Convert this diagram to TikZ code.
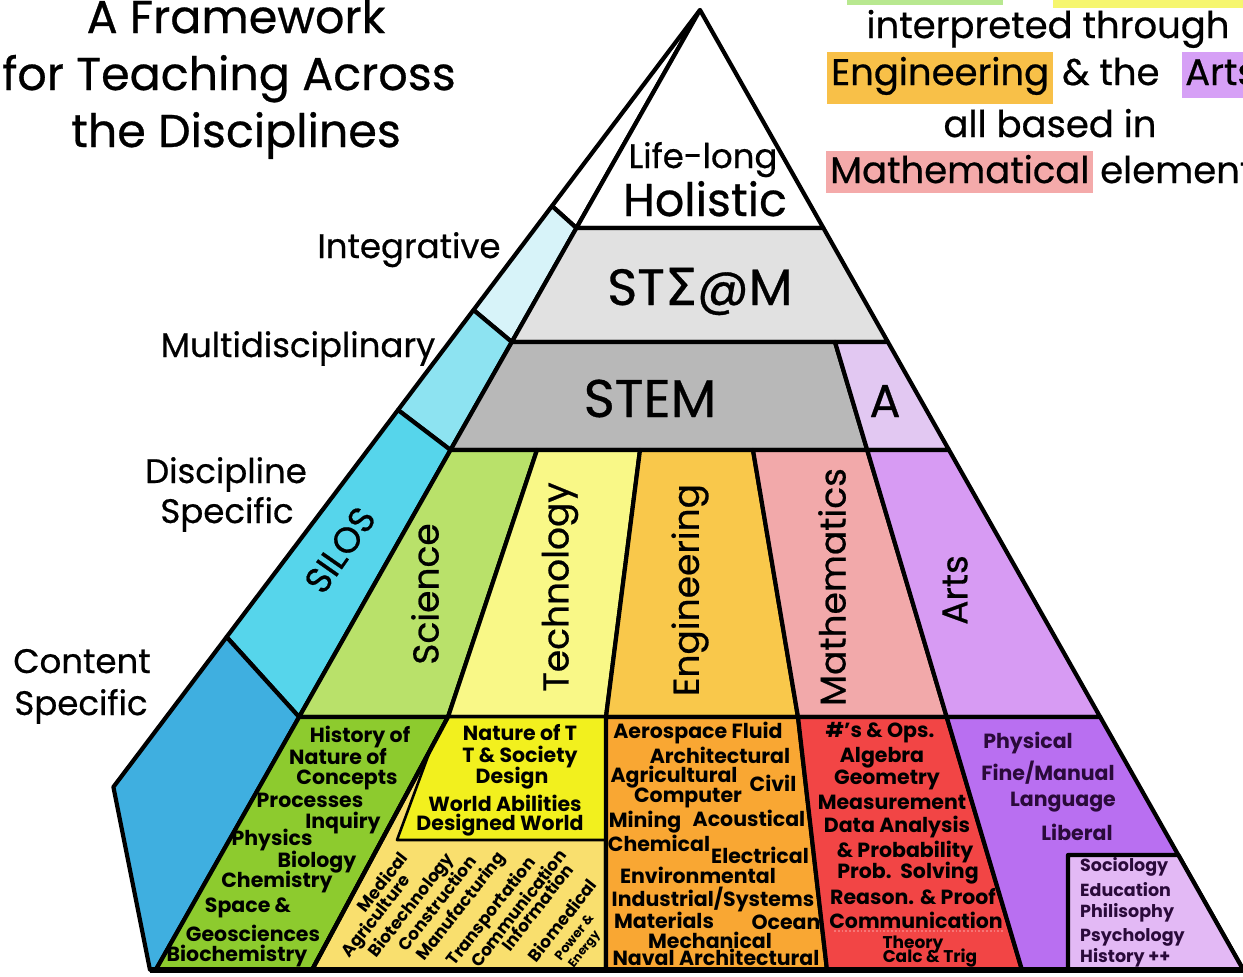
\documentclass[tikz,border=0pt]{standalone}
\usepackage{fontspec}
\setmainfont{Poppins}
\newfontfamily\medfont{Poppins}[FakeBold=0.6]
\newfontfamily\dvs{DejaVu Sans}[FakeBold=0.6]
\definecolor{bInt}{HTML}{D7F3F9}
\definecolor{bMul}{HTML}{8DE3F1}
\definecolor{bSil}{HTML}{56D5EB}
\definecolor{bCon}{HTML}{3FAFE0}
\definecolor{cSteam}{HTML}{E1E1E1}
\definecolor{cStem}{HTML}{B8B8B8}
\definecolor{cA}{HTML}{E2C8F2}
\definecolor{sciTop}{HTML}{B9E16A}
\definecolor{sciBot}{HTML}{8DCB2E}
\definecolor{tecTop}{HTML}{F9F887}
\definecolor{tecBox}{HTML}{F2F01E}
\definecolor{tecBot}{HTML}{F9DF6E}
\definecolor{engTop}{HTML}{F9C84B}
\definecolor{engBot}{HTML}{F9A733}
\definecolor{matTop}{HTML}{F2A9AA}
\definecolor{matBot}{HTML}{F24545}
\definecolor{artTop}{HTML}{D79BF3}
\definecolor{artBot}{HTML}{B96FF1}
\definecolor{socBox}{HTML}{E3B9F5}
\definecolor{hlGreen}{HTML}{B8E890}
\definecolor{hlYellow}{HTML}{F6F66E}
\definecolor{hlOrange}{HTML}{F8C048}
\definecolor{hlPurple}{HTML}{D6A0F6}
\definecolor{hlPink}{HTML}{F4AAAA}
\definecolor{artInk}{HTML}{2A0A3A}
\begin{document}
\begin{tikzpicture}[x=1pt,y=-1pt,
  edge/.style={draw=black,line width=4.2pt,line join=round},
  thinedge/.style={draw=black,line width=2.6pt,line join=round},
  ttl/.style={inner sep=0pt,anchor=base,font=\medfont\fontsize{46}{46}\selectfont},
  trt/.style={inner sep=0pt,anchor=base,font=\medfont\fontsize{37}{37}\selectfont},
  hl/.style={anchor=base west,inner xsep=4pt,inner ysep=8pt,text height=25pt,font=\medfont\fontsize{37}{37}\selectfont},
  side/.style={inner sep=0pt,anchor=base,font=\medfont\fontsize{34}{34}\selectfont},
  rowlbl/.style={inner sep=0pt,anchor=base,font=\medfont\fontsize{51}{51}\selectfont},
  hdr/.style={inner sep=0pt,anchor=center,font=\medfont\fontsize{36}{36}\selectfont},
  bt/.style={inner sep=0pt,anchor=center,font=\bfseries\fontsize{20.5}{20.5}\selectfont},
  dt/.style={inner sep=0pt,anchor=center,rotate=52,font=\bfseries\fontsize{17}{17}\selectfont},
  artxt/.style={bt,text=artInk},
  sot/.style={inner sep=0pt,anchor=west,text=artInk,font=\bfseries\fontsize{17.5}{17.5}\selectfont}
]
\useasboundingbox (0,0) rectangle (1243,977);
\begin{scope}
\clip (0,0) rectangle (1243,977);
% key points
\coordinate (apex) at (700,10);
\coordinate (o1) at (552,206);
\coordinate (o2) at (473.5,310);
\coordinate (o3) at (398,410);
\coordinate (o4) at (226.6,637);
\coordinate (o5) at (113.4,787);
\coordinate (o6) at (150,970);
\coordinate (i1) at (576.4,228);
\coordinate (i2) at (511.8,342);
\coordinate (i3) at (450.5,450);
\coordinate (i4) at (299.1,717);
\coordinate (i5) at (155.7,970);
\coordinate (r1) at (823.4,228);
\coordinate (r2) at (887.9,342);
\coordinate (r3) at (949,450);
\coordinate (r4) at (1100.2,717);
\coordinate (r5) at (1178.3,855);
\coordinate (r6) at (1243.4,970);
\coordinate (m1) at (835,342);
\coordinate (m2) at (867.2,450);
\coordinate (m3) at (946.7,717);
\coordinate (m4) at (1022,970);
\coordinate (st) at (537,450);
\coordinate (sb) at (448,717);
\coordinate (sc) at (312,970);
\coordinate (tt) at (640,450);
\coordinate (tb) at (606,717);
\coordinate (tc) at (606,970);
\coordinate (et) at (753,450);
\coordinate (eb) at (798,717);
\coordinate (ec) at (827,970);
\coordinate (bx1) at (430.3,750);
\coordinate (bx2) at (397,840);
\coordinate (bx3) at (606,840);
\coordinate (so1) at (1068,855);
\coordinate (so2) at (1068,970);
\coordinate (dotA) at (834,931);
\coordinate (dotB) at (1003,931);

% top-right highlight bars (cropped line)
\fill[hlGreen] (847,0) rectangle (1003,5);
\fill[hlYellow] (1053,0) rectangle (1243,8);

% band
\filldraw[edge,fill=white] (apex) -- (o1) -- (i1) -- cycle;
\filldraw[edge,fill=bInt] (o1) -- (o2) -- (i2) -- (i1) -- cycle;
\filldraw[edge,fill=bMul] (o2) -- (o3) -- (i3) -- (i2) -- cycle;
\filldraw[edge,fill=bSil] (o3) -- (o4) -- (i4) -- (i3) -- cycle;
\filldraw[edge,fill=bCon] (o4) -- (o5) -- (o6) -- (i5) -- (i4) -- cycle;
% upper rows
\filldraw[edge,fill=white] (apex) -- (i1) -- (r1) -- cycle;
\filldraw[edge,fill=cSteam] (i1) -- (i2) -- (r2) -- (r1) -- cycle;
\filldraw[edge,fill=cStem] (i2) -- (i3) -- (m2) -- (m1) -- cycle;
\filldraw[edge,fill=cA] (m1) -- (m2) -- (r3) -- (r2) -- cycle;
% discipline row
\filldraw[edge,fill=sciTop] (i3) -- (i4) -- (sb) -- (st) -- cycle;
\filldraw[edge,fill=tecTop] (st) -- (sb) -- (tb) -- (tt) -- cycle;
\filldraw[edge,fill=engTop] (tt) -- (tb) -- (eb) -- (et) -- cycle;
\filldraw[edge,fill=matTop] (et) -- (eb) -- (m3) -- (m2) -- cycle;
\filldraw[edge,fill=artTop] (m2) -- (m3) -- (r4) -- (r3) -- cycle;
% content row
\filldraw[edge,fill=sciBot] (i4) -- (i5) -- (sc) -- (sb) -- cycle;
\filldraw[edge,fill=tecBot] (sb) -- (sc) -- (tc) -- (tb) -- cycle;
\filldraw[thinedge,fill=tecBox] (sb) -- (tb) -- (bx3) -- (bx2) -- (bx1) -- cycle;
\filldraw[edge,fill=engBot] (tb) -- (tc) -- (ec) -- (eb) -- cycle;
\filldraw[edge,fill=matBot] (eb) -- (ec) -- (m4) -- (m3) -- cycle;
\filldraw[edge,fill=artBot] (m3) -- (m4) -- (r6) -- (r4) -- cycle;
\filldraw[edge,fill=socBox] (so1) -- (r5) -- (r6) -- (so2) -- cycle;
\draw[draw=black,line width=5.5pt] (o6) -- (r6);
\draw[edge] (sb) -- (sc);
\draw[edge] (tb) -- (tc);

% title
\node[ttl] (t1) at (236,33) {A Framework};
\node[ttl] (t2) at (229,90) {for Teaching Across};
\node[ttl] (t3) at (236,147) {the Disciplines};

% top right text
\node[trt] (tr1) at (1048,38) {interpreted through};
\node[hl,fill=hlOrange,text depth=11pt] (hEngw) at (827,85) {Engineering};
\node[trt,anchor=base west] (hAnd) at (1062,85) {\& the};
\node[hl,fill=hlPurple,inner xsep=3pt,text depth=5pt] (hArtw) at (1182,85) {Arts};
\node[trt] (tr3) at (1050,137) {all based in};
\node[hl,fill=hlPink,inner ysep=7pt,text depth=3pt] (hMatw) at (826,183) {Mathematical};
\node[trt,anchor=base west] (hElem) at (1100,183) {elements};

% side labels
\node[side] (lInt) at (409,258) {Integrative};
\node[side] (lMul) at (298,357) {Multidisciplinary};
\node[side] (lDis1) at (226,483) {Discipline};
\node[side] (lDis2) at (227,523) {Specific};
\node[side] (lCon1) at (82,673) {Content};
\node[side] (lCon2) at (81,715) {Specific};

% row labels
\node[side,font=\medfont\fontsize{34}{34}\selectfont] (life) at (703,168) {Life-long};
\node[rowlbl,font=\medfont\fontsize{46}{46}\selectfont] (hol) at (705,216) {Holistic};
\node[rowlbl] (steam) at (700,305) {ST{\dvs Σ}@M};
\node[rowlbl,font=\medfont\fontsize{53}{53}\selectfont] (stem) at (650,417) {STEM};
\node[rowlbl,font=\medfont\fontsize{46}{46}\selectfont] (arow) at (885,417) {A};

% column headers
\node[hdr,rotate=55] (silos) at (340,550) {SILOS};
\node[hdr,rotate=90] (hSci) at (425,594) {Science};
\node[hdr,rotate=90] (hTec) at (560,587) {Technology};
\node[hdr,rotate=90] (hEng) at (690,590) {Engineering};
\node[hdr,rotate=90] (hMat) at (832,587) {Mathematics};
\node[hdr,rotate=90] (hArt) at (955,590) {Arts};

% science content
\node[bt] (s1) at (360,737) {History of};
\node[bt] (s2) at (338,757) {Nature of};
\node[bt] (s3) at (347,780) {Concepts};
\node[bt] (s4) at (310,800) {Processes};
\node[bt] (s5) at (343,823) {Inquiry};
\node[bt] (s6) at (272,840) {Physics};
\node[bt] (s7) at (317,862) {Biology};
\node[bt] (s8) at (277,882) {Chemistry};
\node[bt] (s9) at (248,908) {Space \&};
\node[bt] (s10) at (253,933) {Geosciences};
\node[bt] (s11) at (237,956) {Biochemistry};

% technology content
\node[bt] (tx1) at (520,733) {Nature of T};
\node[bt] (tx2) at (520,757) {T \& Society};
\node[bt] (tx3) at (512,778) {Design};
\node[bt] (tx4) at (505,803) {World Abilities};
\node[bt] (tx5) at (500,825) {Designed World};
\node[dt] (d1) at (382,882) {Medical};
\node[dt] (d2) at (377,917) {Agriculture};
\node[dt] (d3) at (412,906) {Biotechnology};
\node[dt] (d4) at (437,903) {Construction};
\node[dt] (d5) at (462,907) {Manufacturing};
\node[dt] (d6) at (492,912) {Transportation};
\node[dt] (d7) at (518,908) {Communication};
\node[dt] (d8) at (537,907) {Information};
\node[dt] (d9) at (562,920) {Biomedical};
\node[dt,font=\bfseries\fontsize{13}{13}\selectfont] (d10) at (574,937) {Power \&};
\node[dt,font=\bfseries\fontsize{12}{12}\selectfont] (d11) at (585,950) {Energy};

% engineering content
\node[bt] (e1) at (698,733) {Aerospace Fluid};
\node[bt] (e2) at (720,755) {Architectural};
\node[bt] (e3) at (674,777) {Agricultural};
\node[bt] (e4) at (773,783) {Civil};
\node[bt] (e5) at (688,798) {Computer};
\node[bt] (e6) at (645,822) {Mining};
\node[bt] (e7) at (749,818) {Acoustical};
\node[bt] (e8) at (659,843) {Chemical};
\node[bt] (e9) at (760,855) {Electrical};
\node[bt] (e10) at (698,875) {Environmental};
\node[bt] (e11) at (713,899) {Industrial/Systems};
\node[bt] (e12) at (664,920) {Materials};
\node[bt] (e13) at (786,922) {Ocean};
\node[bt] (e14) at (710,940) {Mechanical};
\node[bt] (e15) at (716,957) {Naval Architectural};

% mathematics content
\node[bt] (k1) at (880,733) {\#'s \& Ops.};
\node[bt] (k2) at (882,758) {Algebra};
\node[bt] (k3) at (887,780) {Geometry};
\node[bt] (k4) at (892,802) {Measurement};
\node[bt] (k5) at (897,827) {Data Analysis};
\node[bt] (k6) at (905,852) {\& Probability};
\node[bt] (k7) at (908,873) {Prob.\ \ Solving};
\node[bt] (k8) at (913,897) {Reason. \& Proof};
\node[bt] (k9) at (916,920) {Communication};
\draw[draw=matTop!70!red,line width=1.8pt,dotted] (dotA) -- (dotB);
\node[bt,font=\bfseries\fontsize{17}{17}\selectfont] (k10) at (913,944) {Theory};
\node[bt,font=\bfseries\fontsize{17}{17}\selectfont] (k11) at (930,958) {Calc \& Trig};

% arts content
\node[artxt] (a1) at (1028,743) {Physical};
\node[artxt] (a2) at (1048,773) {Fine/Manual};
\node[artxt] (a3) at (1063,802) {Language};
\node[artxt] (a4) at (1077,832) {Liberal};
\node[sot] (so1t) at (1080,867) {Sociology};
\node[sot] (so2t) at (1080,890) {Education};
\node[sot] (so3t) at (1080,913) {Philisophy};
\node[sot] (so4t) at (1080,937) {Psychology};
\node[sot] (so5t) at (1080,958) {History ++};
\end{scope}
\end{tikzpicture}
\end{document}
